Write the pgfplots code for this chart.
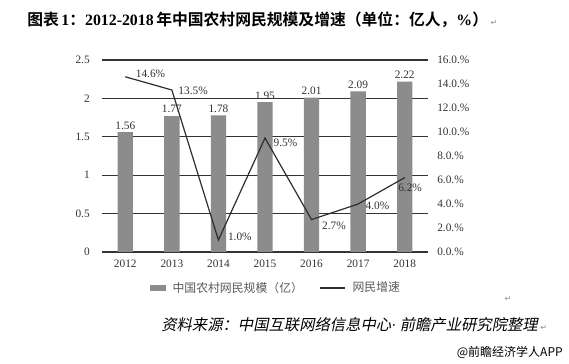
\documentclass[border=0pt]{standalone}
\usepackage{pgfplots}
\pgfplotsset{compat=1.18}
\usepackage{fontspec}
\setmainfont{Liberation Serif}
\newfontfamily\cjk{Noto Sans CJK SC}
\newfontfamily\cjkb{Noto Sans CJK SC Bold}
\newfontfamily\cjkit[FakeSlant=0.2]{Noto Sans CJK SC}
\newfontfamily\dejavu{DejaVu Sans}
\definecolor{barc}{RGB}{140,140,140}
\definecolor{linec}{RGB}{45,45,45}
\definecolor{txt}{RGB}{50,50,50}
\newcommand{\pmark}{{\dejavu\color{black!45}\fontsize{6}{7}\selectfont ↵}}
\begin{document}
\begin{tikzpicture}
\useasboundingbox (0,0) rectangle (426.75pt,273pt);
% title
\node[anchor=west, inner sep=0pt] at (20.25pt,258pt)
  {\fontsize{11.85}{13}\selectfont{\cjkb 图表}\,\textbf{1}{\cjkb ：}\textbf{2012-2018}\,{\cjkb 年中国农村网民规模及增速（单位：亿人，}\textbf{\%}{\cjkb ）}\,\pmark};
\begin{axis}[
  at={(76.5pt,84pt)}, anchor=south west,
  scale only axis, width=244.5pt, height=144pt,
  xmin=-0.5, xmax=6.5, ymin=0, ymax=2.5,
  xtick={0,1,2,3,4,5,6}, xticklabels={2012,2013,2014,2015,2016,2017,2018},
  ytick={0,0.5,1,1.5,2,2.5}, yticklabels={0,0.5,1,1.5,2,2.5},
  axis line style={draw=none}, major tick length=0pt,
  ymajorgrids, grid style={black!80, line width=0.8pt},
  tick label style={font=\fontsize{8.5}{9}\selectfont, text=txt},
  yticklabel style={inner sep=0pt, xshift=-9pt},
  xticklabel style={inner sep=0pt, yshift=-5.5pt},
  ybar, bar width=11.5pt,
  point meta=explicit symbolic,
  nodes near coords,
  nodes near coords style={font=\fontsize{8.5}{9}\selectfont, text=txt, inner sep=0pt, anchor=south, yshift=2pt},
  legend columns=2,
  legend cell align=left,
  legend style={at={(0.147,-0.1875)}, anchor=west, draw=none, fill=none, inner sep=0pt,
     font=\cjk\fontsize{8.9}{10}\selectfont, text=black!65,
     nodes={inner sep=0pt},
     /tikz/every odd column/.append style={column sep=5.25pt},
     /tikz/every even column/.append style={column sep=12.5pt}},
]
\addplot[fill=barc, draw=none,
  legend image code/.code={\fill[barc] (0pt,-2.5pt) rectangle (11.5pt,2.5pt);}]
  coordinates {(0,1.56)[1.56] (1,1.77)[1.77] (2,1.78)[1.78] (3,1.95)[1.95] (4,2.01)[2.01] (5,2.09)[2.09] (6,2.22)[2.22]};
\addlegendentry{中国农村网民规模（亿）}
\addlegendimage{legend image code/.code={\draw[linec, line width=0.9pt] (0pt,0pt)--(18.5pt,0pt);}}
\addlegendentry{网民增速}
\end{axis}
\begin{axis}[
  at={(76.5pt,84pt)}, anchor=south west,
  scale only axis, width=244.5pt, height=144pt,
  xmin=-0.5, xmax=6.5, ymin=0, ymax=16,
  axis x line=none, axis y line*=right,
  axis line style={draw=none}, major tick length=0pt,
  ytick={0,2,4,6,8,10,12,14,16},
  yticklabels={0.0.\%,2.0.\%,4.0.\%,6.0.\%,8.0.\%,10.0.\%,12.0.\%,14.0.\%,16.0.\%},
  yticklabel style={font=\fontsize{8.5}{9}\selectfont, text=txt, anchor=west, inner sep=0pt, xshift=6.75pt},
]
\addplot[linec, line width=0.9pt, mark=none,
  point meta=explicit symbolic,
  visualization depends on={value \thisrow{dx}\as\dx},
  visualization depends on={value \thisrow{dy}\as\dy},
  nodes near coords,
  nodes near coords style={font=\fontsize{8.5}{9}\selectfont, text=txt, inner sep=0pt, anchor=west, xshift=\dx pt, yshift=\dy pt}]
  table[x=x, y=y, meta=lab] {
x y dx dy lab
0 14.6 7.5 2.25 14.6\%
1 13.5 4.5 -0.5 13.5\%
2 1.0 6.75 2.25 1.0\%
3 9.5 6 -3.75 9.5\%
4 2.7 7.5 -4.8 2.7\%
5 4.0 5.25 -1.3 4.0\%
6 6.2 -5.25 -7.8 6.2\%
};
\end{axis}
\node[anchor=center, inner sep=0pt] at (381pt,48.75pt) {\pmark};
\node[anchor=west, inner sep=0pt] at (120.75pt,29.25pt)
  {\cjkit\fontsize{11.5}{13}\selectfont 资料来源：中国互联网络信息中心{\rmfamily·}\ 前瞻产业研究院整理\hspace{2pt}\pmark};
\node[anchor=east, inner sep=0pt] at (422.25pt,9pt)
  {\cjk\fontsize{9}{10}\selectfont @前瞻经济学人APP};
\end{tikzpicture}
\end{document}
